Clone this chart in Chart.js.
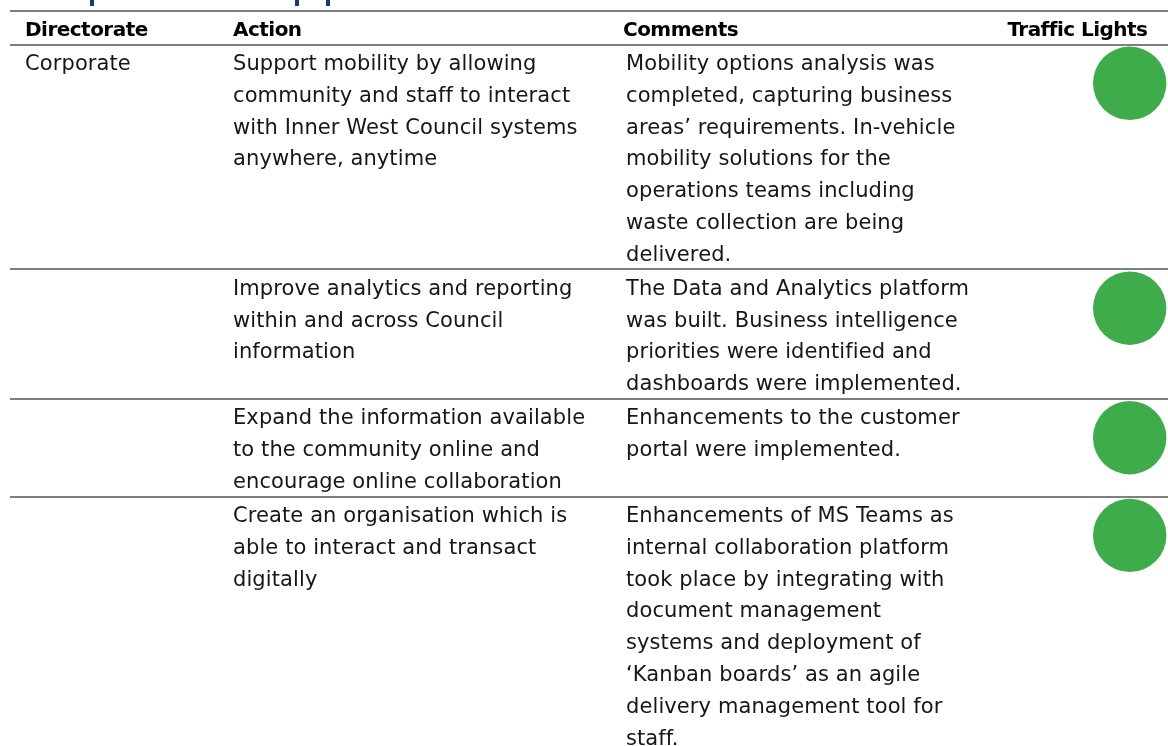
<!DOCTYPE html>
<html><head><meta charset="utf-8">
<script src="https://cdn.jsdelivr.net/npm/chart.js@4.4.1/dist/chart.umd.min.js"></script>
<style>
html,body{margin:0;padding:0;background:#fff;width:1168px;height:746px;overflow:hidden;}
#page{position:relative;width:1168px;height:746px;overflow:hidden;}
.rule{position:absolute;left:10px;width:1158px;height:2px;background:#7f7f7f;}
.t{position:absolute;white-space:nowrap;color:#161616;font-family:'DejaVu Sans',sans-serif;font-size:21px;}
.h{font-weight:bold;color:#000;font-size:20px;}
.frag{position:absolute;top:0;height:6px;background:#1f3864;}
#chart{position:absolute;left:0;top:0;pointer-events:none;}
</style></head><body><div id="page"><canvas id="chart" width="1168" height="746"></canvas></div>
<script>
// ---- data ----
const headers = ['Directorate', 'Action', 'Comments', 'Traffic Lights'];
const directorates = ['Corporate', '', '', ''];
const actions = [
  ['Support mobility by allowing', 'community and staff to interact', 'with Inner West Council systems', 'anywhere, anytime'],
  ['Improve analytics and reporting', 'within and across Council', 'information'],
  ['Expand the information available', 'to the community online and', 'encourage online collaboration'],
  ['Create an organisation which is', 'able to interact and transact', 'digitally']
];
const comments = [
  ['Mobility options analysis was', 'completed, capturing business', 'areas\u2019 requirements. In-vehicle', 'mobility solutions for the', 'operations teams including', 'waste collection are being', 'delivered.'],
  ['The Data and Analytics platform', 'was built. Business intelligence', 'priorities were identified and', 'dashboards were implemented.'],
  ['Enhancements to the customer', 'portal were implemented.'],
  ['Enhancements of MS Teams as', 'internal collaboration platform', 'took place by integrating with', 'document management', 'systems and deployment of', '\u2018Kanban boards\u2019 as an agile', 'delivery management tool for', 'staff.']
];
const trafficLights = ['Green', 'Green', 'Green', 'Green'];
const lightColours = { Green: '#3fac4b', Amber: '#f5b800', Red: '#e02020' };

// ---- layout ----
const page = document.getElementById('page');
const LH = 31.8, ROW_EXTRA = 2.3;
const colX = [25, 233, 626];
const headRight = 1148;

function fitSpacing(font, text, target) {
  const c = document.createElement('canvas').getContext('2d');
  c.font = font;
  const w = c.measureText(text).width;
  return (target - w) / (text.length - 1);
}
const bodyLS = fitSpacing("21px 'DejaVu Sans'", 'The Data and Analytics platform', 343);
const headLS = (fitSpacing("bold 20px 'DejaVu Sans'", 'Directorate', 123) + fitSpacing("bold 20px 'DejaVu Sans'", 'Traffic Lights', 139)) / 2;

function addRule(y) {
  const d = document.createElement('div');
  d.className = 'rule'; d.style.top = (y - 1) + 'px';
  page.appendChild(d);
}
function addText(txt, x, top, cls, ls, right) {
  const d = document.createElement('div');
  d.className = cls; d.textContent = txt;
  d.style.top = top + 'px'; d.style.lineHeight = LH + 'px';
  d.style.letterSpacing = ls + 'px';
  if (right) { d.style.right = (1168 - x - ls) + 'px'; } else { d.style.left = x + 'px'; }
  page.appendChild(d);
}
// title descender fragments (cut-off heading above)
[[89.5, 4], [295, 4.3], [325.5, 4.5]].forEach(([x, w]) => {
  const d = document.createElement('div'); d.className = 'frag';
  d.style.left = x + 'px'; d.style.width = w + 'px'; page.appendChild(d);
});

addRule(11);
addRule(44.5);
const headTop = 14.2;
addText(headers[0], colX[0], headTop, 't h', headLS);
addText(headers[1], colX[1], headTop, 't h', headLS);
addText(headers[2], colX[2] - 3, headTop, 't h', headLS);
addText(headers[3], headRight, headTop, 't h', headLS, true);

const rowRules = [];
let y = 44.5;
for (let i = 0; i < actions.length; i++) {
  rowRules.push(y);
  if (i > 0) addRule(y);
  const top = y + 3.4;
  if (directorates[i]) addText(directorates[i], colX[0], top, 't', bodyLS);
  actions[i].forEach((l, k) => addText(l, colX[1], top + k * LH, 't', bodyLS));
  comments[i].forEach((l, k) => addText(l, colX[2], top + k * LH, 't', bodyLS));
  const n = Math.max(1, actions[i].length, comments[i].length);
  y += n * LH + ROW_EXTRA;
}

// ---- traffic lights via Chart.js ----
const lightR = 36.7, lightX = 1129.7, lightDy = 38.8;
new Chart(document.getElementById('chart'), {
  type: 'scatter',
  data: {
    datasets: [{
      data: trafficLights.map((s, i) => ({ x: lightX, y: rowRules[i] + lightDy })),
      backgroundColor: trafficLights.map(s => lightColours[s]),
      pointRadius: lightR, pointHoverRadius: lightR,
      pointBorderWidth: 0, borderWidth: 0, clip: false
    }]
  },
  options: {
    responsive: false, animation: false, events: [],
    layout: { padding: 0, autoPadding: false },
    plugins: { legend: { display: false }, tooltip: { enabled: false } },
    scales: {
      x: { type: 'linear', min: 0, max: 1168, display: false },
      y: { type: 'linear', min: 0, max: 746, reverse: true, display: false }
    }
  }
});
</script></body></html>
